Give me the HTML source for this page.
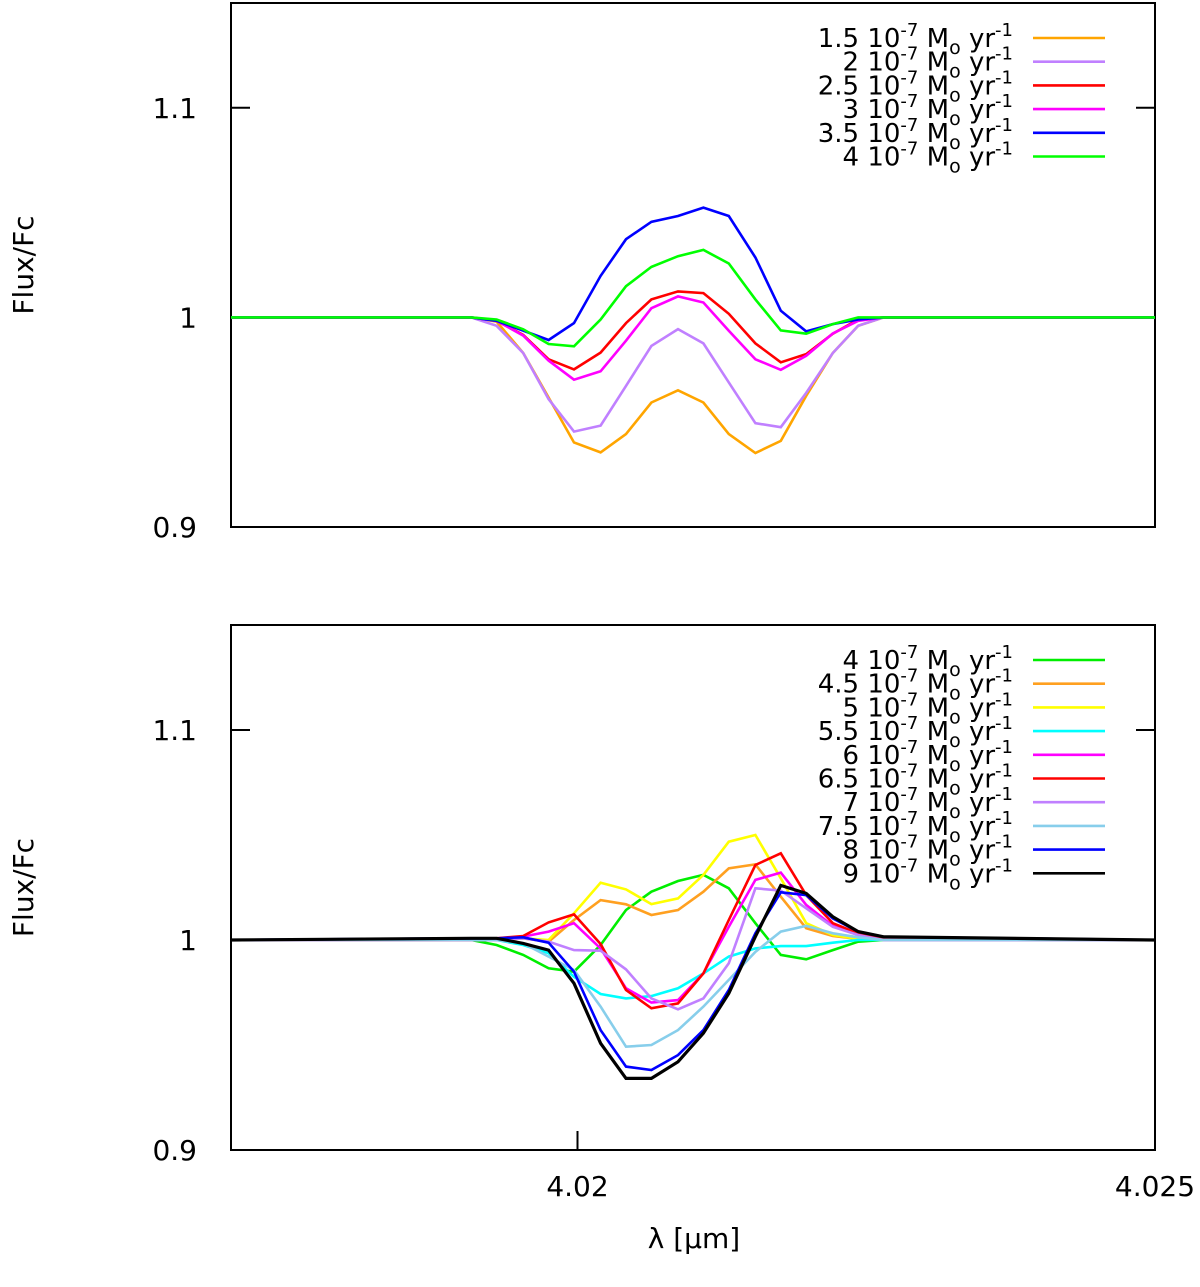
<!DOCTYPE html>
<html><head><meta charset="utf-8"><style>
body{margin:0;background:#fff}
svg text{font-family:"DejaVu Sans","Liberation Sans",sans-serif;fill:#000}
</style></head><body>
<svg id="chart" width="1200" height="1282" xmlns="http://www.w3.org/2000/svg"></svg>
<script>
const NS="http://www.w3.org/2000/svg";
// wavelength grid (µm) of the model points
const wl=[4.017,4.01908,4.01930,4.01953,4.01975,4.01997,4.02020,4.02042,4.02064,4.02087,4.02109,4.02131,4.02154,4.02176,4.02198,4.02221,4.02243,4.02265,4.025];
const topLabels=["1.5","2","2.5","3","3.5","4"];
const topColors=["#ffa500","#c080ff","#ff0000","#ff00ff","#0000ff","#00ff00"];
const top15=[1,1,0.998,0.983,0.9618,0.9403,0.9356,0.9443,0.9594,0.9652,0.9594,0.9443,0.9353,0.9411,0.9626,0.983,0.996,1,1];
const top20=[1,1,0.996,0.983,0.961,0.9455,0.9484,0.9673,0.9864,0.9944,0.9876,0.969,0.9495,0.9476,0.964,0.983,0.996,1,1];
const top25=[1,1,0.9984,0.9916,0.98,0.9752,0.9832,0.9973,1.0086,1.0124,1.0116,1.0017,0.9876,0.9786,0.9825,0.9922,0.999,1,1];
const top30=[1,1,0.9984,0.9913,0.9794,0.9703,0.9743,0.9889,1.0044,1.01,1.0071,0.9936,0.98,0.975,0.9817,0.9923,0.9984,1,1];
const top35=[1,1,0.9984,0.9937,0.9892,0.9973,1.0198,1.0373,1.0456,1.0484,1.0524,1.0484,1.0286,1.0032,0.9933,0.9968,0.999,1,1];
const top40=[1,1,0.999,0.9943,0.9873,0.9862,0.999,1.0149,1.0241,1.0292,1.0322,1.0257,1.0086,0.9938,0.9922,0.9968,1,1,1];
const botLabels=["4","4.5","5","5.5","6","6.5","7","7.5","8","9"];
const botColors=["#00ee00","#ffa020","#ffff00","#00ffff","#ff00ff","#ff0000","#c080ff","#87ceeb","#0000ff","#000000"];
const b40=[1,1,0.9976,0.9929,0.9865,0.9849,0.9976,1.0143,1.023,1.0281,1.031,1.0246,1.008,0.9929,0.9908,0.9952,0.9992,1,1];
const b45=[1,1,1,1.0008,0.9992,1.0095,1.019,1.017,1.0119,1.0143,1.023,1.0341,1.036,1.0206,1.0056,1.0019,1.0005,1,1];
const b50=[1,1,1,1.0008,1,1.0127,1.0273,1.0241,1.0171,1.0198,1.031,1.0468,1.05,1.0294,1.008,1.0024,1.0005,1,1];
const b55=[1,1,1,0.9976,0.9937,0.9825,0.9743,0.9722,0.9733,0.977,0.9841,0.9921,0.996,0.9971,0.9971,0.9987,1,1,1];
const b60=[1,1,1,1.0016,1.004,1.008,0.996,0.977,0.9702,0.9714,0.9841,1.0063,1.0286,1.0321,1.0167,1.0067,1.0024,1,1];
const b65=[1,1,1.0008,1.0019,1.0084,1.0122,0.9981,0.9762,0.9675,0.9698,0.9841,1.0095,1.0357,1.0413,1.0214,1.008,1.0032,1.001,1];
const b70=[1,1,1,1.0008,0.9992,0.9952,0.9949,0.986,0.9722,0.967,0.9722,0.9889,1.0246,1.0235,1.0151,1.0063,1.0024,1,1];
const b75=[1,1,1,0.9984,0.9921,0.9857,0.9683,0.9492,0.95,0.9571,0.9683,0.981,0.9944,1.004,1.0067,1.0032,1.0013,1,1];
const b80=[1,1.0008,1.0008,1.0013,0.9987,0.9849,0.9571,0.9397,0.9381,0.9452,0.9571,0.9762,1.0032,1.0227,1.0214,1.0103,1.004,1.0015,1];
const b90=[1,1.0008,1.0008,0.9984,0.9952,0.9794,0.9508,0.9341,0.9341,0.942,0.9556,0.9746,1.0016,1.026,1.0222,1.0111,1.004,1.0015,1];
const yTicks=[0.9,1,1.1];
const yTickLabels=["0.9","1","1.1"];
const xTicks=[4.02,4.025];
const xTickLabels=["4.02","4.025"];

const svg=document.getElementById("chart");
function mk(tag,attrs,parent){const e=document.createElementNS(NS,tag);for(const k in attrs)e.setAttribute(k,attrs[k]);(parent||svg).appendChild(e);return e;}
const X0=231,X1=1155;
function xs(v){return X0+(v-4.017)/(4.025-4.017)*(X1-X0);}
function panel(yTop,yBot,series,labels,colors,legendY,showX,nm){
  const g=mk("g",{});
  
  
  const ys=v=>yBot-(v-0.9)/0.25*(yBot-yTop);
  const frame=mk("rect",{x:X0,y:yTop,width:X1-X0,height:yBot-yTop,fill:"none",stroke:"#000","stroke-width":2},g);
  
  
  yTicks.forEach((t,i)=>{
    const y=ys(t);
    mk("line",{x1:X0,x2:X0+19,y1:y,y2:y,stroke:"#000","stroke-width":2},g);
    mk("line",{x1:X1-19,x2:X1,y1:y,y2:y,stroke:"#000","stroke-width":2},g);
    const tx=mk("text",{x:197,y:y+10,"text-anchor":"end","font-size":28},g);
    tx.textContent=yTickLabels[i];
    
    
  });
  if(showX){xTicks.forEach((t,i)=>{
    const x=xs(t);
    if(t<4.025){mk("line",{x1:x,x2:x,y1:yBot,y2:yBot-19,stroke:"#000","stroke-width":2},g);}
    const tx=mk("text",{x:x,y:yBot+46,"text-anchor":"middle","font-size":28},g);
    tx.textContent=xTickLabels[i];
    
    
  });}
  const yl=mk("text",{x:0,y:0,"text-anchor":"middle","font-size":28,transform:`translate(33,${(yTop+yBot)/2}) rotate(-90)`},g);
  yl.textContent="Flux/Fc";
  
  
  series.forEach((s,i)=>{
    const p=mk("polyline",{points:s.map((v,j)=>xs(wl[j]).toFixed(1)+","+ys(v).toFixed(1)).join(" "),fill:"none",stroke:colors[i],"stroke-width":colors[i]==="#000000"?3.2:2.6,"stroke-linejoin":"miter"},g);
    
    
    const ly=legendY+i*23.7;
    const ln=mk("line",{x1:1033,x2:1105,y1:ly,y2:ly,stroke:colors[i],"stroke-width":2.6},g);
    
    
    const t=mk("text",{x:1013,y:ly+9,"text-anchor":"end","font-size":26},g);
    t.innerHTML=labels[i]+' 10<tspan dy="-11" font-size="18">-7</tspan><tspan dy="11"> M</tspan><tspan dy="7" font-size="19">o</tspan><tspan dy="-7"> yr</tspan><tspan dy="-11" font-size="18">-1</tspan>';
    
    
  });
}
panel(3,527,[top15,top20,top25,top30,top35,top40],topLabels,topColors,38,false,"top-panel");
panel(625,1150,[b40,b45,b50,b55,b60,b65,b70,b75,b80,b90],botLabels,botColors,660,true,"bottom-panel");
const xt=mk("text",{x:694,y:1248,"text-anchor":"middle","font-size":28});
xt.textContent="λ [µm]";


</script>
</body></html>
